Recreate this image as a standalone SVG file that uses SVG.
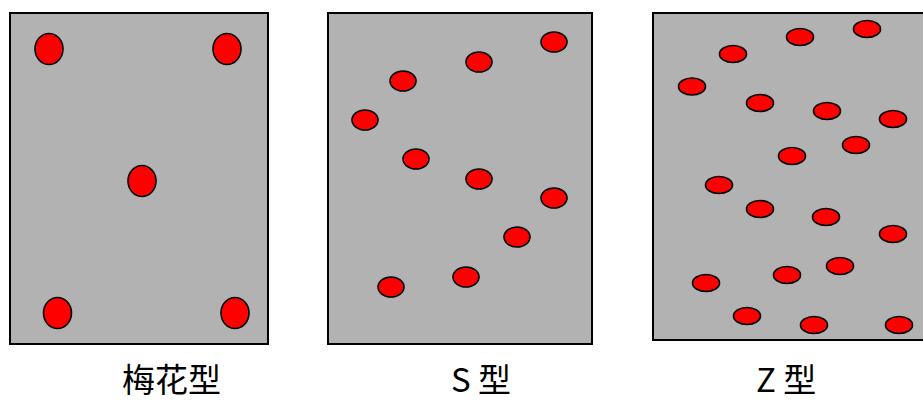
<svg xmlns="http://www.w3.org/2000/svg" width="923" height="403" viewBox="0 0 923 403">
<style>
.panel{fill:#b2b2b2;stroke:#000;stroke-width:2}
.dot{fill:#ff0000;stroke:#000;stroke-width:1.6}
.lbl{font-family:"Noto Sans CJK SC","Noto Sans",sans-serif;font-size:33px;fill:#000}
</style>
<rect width="923" height="403" fill="#fff"/>
<g id="plum">
<rect class="panel" x="10" y="13" width="258" height="331"/>
<ellipse class="dot" cx="49" cy="49" rx="14" ry="15.5"/>
<ellipse class="dot" cx="227" cy="49" rx="14" ry="15.5"/>
<ellipse class="dot" cx="142" cy="181" rx="14" ry="15.5"/>
<ellipse class="dot" cx="57.5" cy="313" rx="14" ry="15.5"/>
<ellipse class="dot" cx="235" cy="313" rx="14" ry="15.5"/>
<text class="lbl" x="122" y="392">梅花型</text>
</g>
<g id="s-type">
<rect class="panel" x="328" y="13" width="264" height="331"/>
<ellipse class="dot" cx="554" cy="42" rx="13" ry="10"/>
<ellipse class="dot" cx="479" cy="62" rx="13" ry="10"/>
<ellipse class="dot" cx="403" cy="81" rx="13" ry="10"/>
<ellipse class="dot" cx="365" cy="120" rx="13" ry="10"/>
<ellipse class="dot" cx="416" cy="159" rx="13" ry="10"/>
<ellipse class="dot" cx="479" cy="179" rx="13" ry="10"/>
<ellipse class="dot" cx="554" cy="198" rx="13" ry="10"/>
<ellipse class="dot" cx="517" cy="237" rx="13" ry="10"/>
<ellipse class="dot" cx="466" cy="277" rx="13" ry="10"/>
<ellipse class="dot" cx="391" cy="287" rx="13" ry="10"/>
<text class="lbl" x="451" y="392">S 型</text>
</g>
<g id="z-type">
<rect class="panel" x="653" y="13" width="280" height="327"/>
<ellipse class="dot" cx="867" cy="29" rx="13.5" ry="8.5"/>
<ellipse class="dot" cx="800" cy="37" rx="13.5" ry="8.5"/>
<ellipse class="dot" cx="733" cy="54" rx="13.5" ry="8.5"/>
<ellipse class="dot" cx="692" cy="86.5" rx="13.5" ry="8.5"/>
<ellipse class="dot" cx="760" cy="103" rx="13.5" ry="8.5"/>
<ellipse class="dot" cx="827" cy="111" rx="13.5" ry="8.5"/>
<ellipse class="dot" cx="893" cy="119" rx="13.5" ry="8.5"/>
<ellipse class="dot" cx="856" cy="145" rx="13.5" ry="8.5"/>
<ellipse class="dot" cx="792" cy="156" rx="13.5" ry="8.5"/>
<ellipse class="dot" cx="719" cy="185" rx="13.5" ry="8.5"/>
<ellipse class="dot" cx="760" cy="209" rx="13.5" ry="8.5"/>
<ellipse class="dot" cx="826" cy="217" rx="13.5" ry="8.5"/>
<ellipse class="dot" cx="893" cy="234" rx="13.5" ry="8.5"/>
<ellipse class="dot" cx="840" cy="266" rx="13.5" ry="8.5"/>
<ellipse class="dot" cx="787" cy="275" rx="13.5" ry="8.5"/>
<ellipse class="dot" cx="706" cy="283" rx="13.5" ry="8.5"/>
<ellipse class="dot" cx="747" cy="316" rx="13.5" ry="8.5"/>
<ellipse class="dot" cx="814" cy="325" rx="13.5" ry="8.5"/>
<ellipse class="dot" cx="899" cy="325" rx="13.5" ry="8.5"/>
<text class="lbl" x="756" y="392">Z 型</text>
</g>
<g id="connectors"/>
</svg>
